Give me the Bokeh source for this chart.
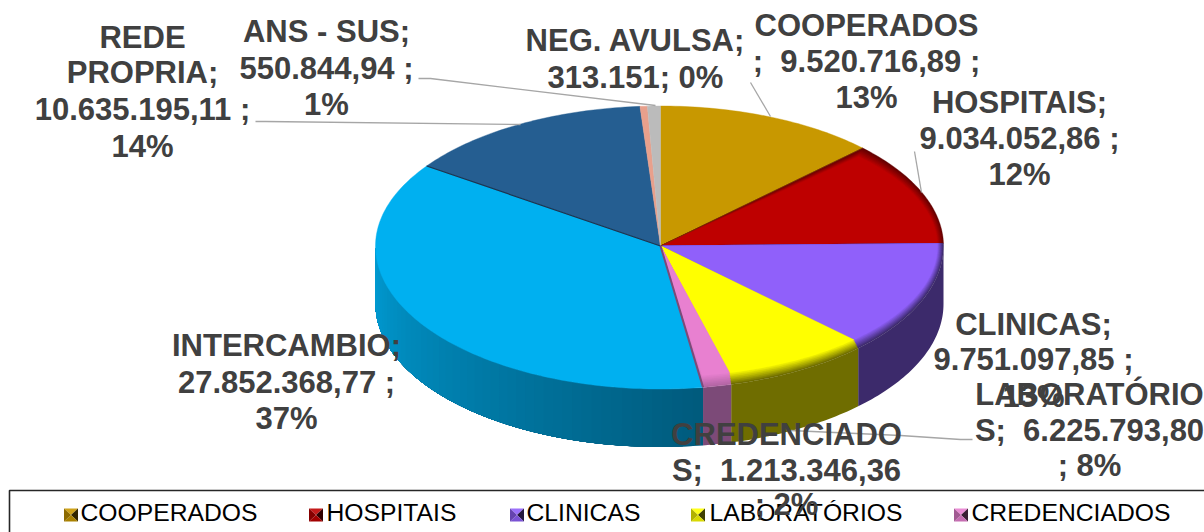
import math
from bokeh.plotting import figure
from bokeh.models import ColumnDataSource, Range1d
from bokeh.core.properties import value
from bokeh.embed import file_html
from bokeh.resources import INLINE

# ---- data ----
categories = ["COOPERADOS", "HOSPITAIS", "CLINICAS", "LABORATÓRIOS", "CREDENCIADOS",
              "INTERCAMBIO", "REDE PROPRIA", "NEG. AVULSA", "ANS - SUS"]
amounts = [9520716.89, 9034052.86, 9751097.85, 6225793.80, 1213346.36,
           27852368.77, 10635195.11, 313151.0, 550844.94]
legend_entries = categories[:5]

label_lines = [
    ["COOPERADOS", "; \u00a09.520.716,89 ;", "13%"],
    ["HOSPITAIS;", "9.034.052,86 ;", "12%"],
    ["CLINICAS;", "9.751.097,85 ;", "13%"],
    ["LABORATÓRIO", "S; \u00a06.225.793,80", "; 8%"],
    ["CREDENCIADO", "S; \u00a01.213.346,36", "; 2%"],
    ["INTERCAMBIO;", "27.852.368,77 ;", "37%"],
    ["REDE", "PROPRIA;", "10.635.195,11 ;", "14%"],
    ["NEG. AVULSA;", "313.151; 0%"],
    ["ANS - SUS;", "550.844,94 ;", "1%"],
]

# ---- styles ----
top_colors = ["#C89800", "#BE0000", "#9060FA", "#FFFF00", "#E880D0",
              "#00B0F0", "#255E91", "#E8A08C", "#BBBBBB"]
wall_first = ["#6b5200", "#5a0000", "#3C2A6B", "#6F6D00", "#7C4A78",
              "#005A7C", "#163a5a", "#8a6050", "#707070"]
wall_last = ["#6b5200", "#5a0000", "#3C2A6B", "#6F6D00", "#7C4A78",
             "#009CD4", "#163a5a", "#8a6050", "#707070"]
bevel = [0.0, 0.9, 1.0, 1.0, 0.5, 0.0, 0.0, 0.0, 0.0]
label_centers = [
    (866, [25, 61, 97]),
    (1019, [102, 138, 174]),
    (1033, [324, 359, 396]),
    (1089, [394, 430, 465]),
    (786, [434, 470, 504]),
    (286, [345, 382, 418]),
    (142, [37, 72, 109, 146]),
    (635, [40, 77]),
    (326, [31, 68, 104]),
]
leaders = [
    ([750, 770], [82, 116]),
    ([914, 921], [151, 192]),
    ([790, 900, 960, 972], [430, 435, 439, 439]),
    ([255, 265, 520], [121, 121, 124]),
    ([418, 430, 655], [78, 78, 105]),
]
legend_key_x = [63.5, 308.5, 509.5, 690.5, 953.5]
legend_text_x = [80, 326, 526, 709, 971]
CX, CY = 660.0, 245.5
RX_L, RX_R, RY_U, RY_D = 285.0, 283.0, 140.0, 143.0
DEPTH = 58.0


def mix(c1, c2, t):
    a = [int(c1[i:i + 2], 16) for i in (1, 3, 5)]
    b = [int(c2[i:i + 2], 16) for i in (1, 3, 5)]
    return "#%02x%02x%02x" % tuple(round(a[i] + (b[i] - a[i]) * t) for i in range(3))


def pt(deg, shrink_x=0.0, shrink_y=0.0):
    r = math.radians(deg)
    s, c = math.sin(r), math.cos(r)
    rx = (RX_R if s >= 0 else RX_L) - shrink_x
    ry = (RY_U if c >= 0 else RY_D) - shrink_y
    return CX + rx * s, CY - ry * c


def arc_angles(a0, a1, step=1.0):
    n = max(2, int(math.ceil((a1 - a0) / step)) + 1)
    return [a0 + (a1 - a0) * i / (n - 1) for i in range(n)]


def wall_poly(lo, hi):
    top = [pt(a) for a in arc_angles(lo, hi)]
    return ([q[0] for q in top] + [q[0] for q in reversed(top)],
            [q[1] for q in top] + [q[1] + DEPTH for q in reversed(top)])


total = sum(amounts)
edges = [0.0]
for v in amounts:
    edges.append(edges[-1] + v / total * 360.0)

W, H = 1204, 532
p = figure(width=W, height=H, x_range=Range1d(0, W), y_range=Range1d(H, 0),
           output_backend="svg", toolbar_location=None, min_border=0,
           outline_line_color=None, background_fill_color="white", border_fill_color="white")
p.axis.visible = False
p.grid.visible = False

# side wall: colour bands painted over one another, so no seams show
wx, wy, wc = [], [], []
BANDS = 48
for i, (a0, a1) in enumerate(zip(edges[:-1], edges[1:])):
    lo, hi = max(a0, 90.0), min(a1, 270.0)
    if hi <= lo:
        continue
    n = 1 if wall_first[i] == wall_last[i] else BANDS
    for k in range(n):
        a = lo + (hi - lo) * k / n
        xs, ys = wall_poly(a, hi)
        wx.append(xs)
        wy.append(ys)
        wc.append(mix(wall_first[i], wall_last[i], (k + 0.5) / n))
p.patches("x", "y", source=ColumnDataSource(dict(x=wx, y=wy, c=wc)),
          fill_color="c", line_color=None)

# top face with soft rim
tx, ty, tc = [], [], []
RIM_STEPS = 7
for i, (a0, a1) in enumerate(zip(edges[:-1], edges[1:])):
    ang = arc_angles(a0, a1)
    steps = RIM_STEPS if bevel[i] > 0 else 0
    for j in range(steps + 1):
        t = j / RIM_STEPS if steps else 1.0
        pts = [pt(a, 6.0 * t, 12.0 * t) if steps else pt(a) for a in ang]
        tx.append([CX] + [q[0] for q in pts])
        ty.append([CY] + [q[1] for q in pts])
        if steps:
            tc.append(mix(wall_first[i], top_colors[i], 1 - (1 - t) * bevel[i]))
        else:
            tc.append(top_colors[i])
p.patches("x", "y", source=ColumnDataSource(dict(x=tx, y=ty, c=tc)),
          fill_color="c", line_color="c", line_width=0.4)

# seams between slices
seam_style = {0: ("#7a3000", 0.8), 4: ("#7C4A78", 2.0), 5: ("#1a3550", 1.2)}
sx, sy, sc, sw = [], [], [], []
for idx, (col, w) in seam_style.items():
    q = pt(edges[idx + 1])
    sx.append([CX, q[0]])
    sy.append([CY, q[1]])
    sc.append(col)
    sw.append(w)
p.multi_line("x", "y", source=ColumnDataSource(dict(x=sx, y=sy, c=sc, w=sw)),
             line_color="c", line_width="w")

# leader lines
p.multi_line([l[0] for l in leaders], [l[1] for l in leaders],
             line_color="#A6A6A6", line_width=1.3)

# legend frame
p.line([9, 9, 1204], [532, 490, 490], line_color="#262626", line_width=1.6)

# legend keys
KS, KH = 14.0, 13.0
KY = 508.0
kx, ky, kc = [], [], []
for i, name in enumerate(legend_entries):
    x0 = legend_key_x[i]
    xm, ym = x0 + KS / 2, KY + KH / 2
    base = top_colors[i]
    corners = [(x0, KY), (x0 + KS, KY), (x0 + KS, KY + KH), (x0, KY + KH)]
    shades = [mix(base, "#ffffff", 0.1), mix(base, "#000000", 0.75),
              mix(base, "#000000", 0.15), mix(base, "#000000", 0.3)]
    for k in range(4):
        a, b = corners[k], corners[(k + 1) % 4]
        kx.append([a[0], b[0], xm])
        ky.append([a[1], b[1], ym])
        kc.append(shades[k])
p.patches("x", "y", source=ColumnDataSource(dict(x=kx, y=ky, c=kc)),
          fill_color="c", line_color=None)

p.text(legend_text_x, [512] * 5, text=legend_entries, text_font=value("Liberation Sans"),
       text_font_size="24.7px", text_color="#000000", text_align="left", text_baseline="middle")

# data labels
lx, ly, lt = [], [], []
for (cx, ys), lines in zip(label_centers, label_lines):
    for y, t in zip(ys, lines):
        lx.append(cx)
        ly.append(y)
        lt.append(t)
p.text(lx, ly, text=lt, text_font=value("Liberation Sans"), text_font_style="bold",
       text_font_size="31px", text_color="#404040", text_align="center", text_baseline="middle")

open("out.html", "w").write(file_html(p, INLINE))
